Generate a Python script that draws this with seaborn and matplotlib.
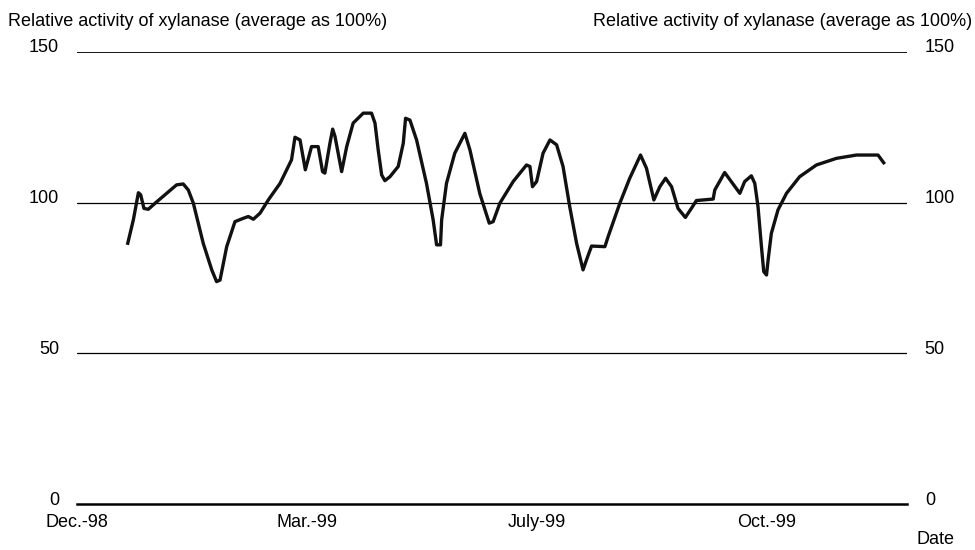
import numpy as np
import pandas as pd
import matplotlib
matplotlib.use("Agg")
import matplotlib.pyplot as plt
import matplotlib.transforms as mtransforms
import seaborn as sns

# position along the date axis (0 = Dec.-98, 1 = Mar.-99, 2 = July-99, 3 = Oct.-99)
date_pos = [0.219, 0.245, 0.267, 0.277, 0.291, 0.310, 0.347, 0.433, 0.462, 0.484,
            0.506, 0.549, 0.586, 0.607, 0.622, 0.651, 0.687, 0.723, 0.745, 0.767,
            0.796, 0.832, 0.883, 0.933, 0.948, 0.970, 0.993, 1.020, 1.049, 1.068,
            1.078, 1.100, 1.112, 1.122, 1.151, 1.173, 1.201, 1.245, 1.281, 1.296,
            1.310, 1.325, 1.339, 1.361, 1.397, 1.419, 1.429, 1.448, 1.477, 1.520,
            1.549, 1.564, 1.581, 1.586, 1.607, 1.643, 1.687, 1.709, 1.752, 1.793,
            1.810, 1.839, 1.897, 1.955, 1.970, 1.981, 1.999, 2.027, 2.057, 2.086,
            2.114, 2.143, 2.173, 2.201, 2.216, 2.238, 2.296, 2.310, 2.361, 2.404,
            2.451, 2.477, 2.509, 2.535, 2.560, 2.586, 2.614, 2.646, 2.674, 2.694,
            2.767, 2.774, 2.817, 2.883, 2.904, 2.933, 2.948, 2.962, 2.977, 2.987,
            2.999, 3.006, 3.020, 3.049, 3.086, 3.143, 3.216, 3.303, 3.390, 3.484,
            3.513]
activity = [86.0, 94.3, 103.3, 102.6, 98.1, 97.8, 100.3, 105.9, 106.2, 104.2,
            99.8, 86.5, 77.7, 73.8, 74.3, 85.4, 93.7, 94.8, 95.4, 94.5,
            96.5, 100.9, 106.4, 114.2, 121.7, 120.8, 110.9, 118.6, 118.6, 110.3,
            109.8, 119.7, 124.4, 122.0, 110.3, 118.6, 126.4, 129.7, 129.7, 126.4,
            117.5, 109.2, 107.3, 108.6, 112.0, 119.7, 128.0, 127.4, 120.8, 106.4,
            94.3, 86.0, 86.0, 94.3, 106.4, 116.4, 123.0, 117.5, 103.0, 93.2,
            93.7, 99.8, 107.0, 112.5, 112.0, 105.3, 107.0, 116.4, 120.8, 119.2,
            112.0, 98.7, 86.5, 77.7, 81.0, 85.6, 85.4, 88.7, 99.8, 108.1,
            115.8, 111.4, 100.9, 105.3, 108.1, 105.3, 98.1, 95.1, 98.3, 100.7,
            101.2, 104.2, 110.0, 103.1, 107.0, 108.9, 106.4, 98.7, 85.4, 77.1,
            76.0, 81.0, 89.8, 97.6, 103.1, 108.6, 112.5, 114.7, 115.8, 115.8,
            112.8]

tick_pos = [0, 1, 2, 3]
tick_labels = ["Dec.-98", "Mar.-99", "July-99", "Oct.-99"]
y_ticks = [0, 50, 100, 150]
y_title = "Relative activity of xylanase (average as 100%)"

df = pd.DataFrame({"pos": date_pos, "activity": activity})

sns.set_style("white")
plt.rcParams["font.family"] = ["Liberation Sans", "DejaVu Sans"]
plt.rcParams["font.size"] = 13
plt.rcParams["text.color"] = "black"
plt.rcParams["xtick.color"] = "black"
plt.rcParams["ytick.color"] = "black"

fig = plt.figure(figsize=(9.75, 5.5), dpi=100)
ax = fig.add_axes([0.079, 0.0836, 0.851, 0.8219])

for yv in [50, 100]:
    ax.axhline(yv, color="black", lw=0.9, zorder=1)
ax.axhline(150, color="black", lw=1.3, zorder=1)

sns.lineplot(data=df, x="pos", y="activity", sort=False, estimator=None,
             color="#111111", lw=2.4, ax=ax, zorder=3)
ax.lines[-1].set_solid_joinstyle("round")
ax.lines[-1].set_solid_capstyle("butt")

ax.set_xlim(0, 3.609)
ax.set_ylim(0, 150)
for s in ["top", "left", "right"]:
    ax.spines[s].set_visible(False)
ax.spines["bottom"].set_linewidth(1.8)
ax.spines["bottom"].set_color("black")

ax.set_xticks(tick_pos)
ax.set_xticklabels(tick_labels)
ax.tick_params(axis="x", direction="in", length=9, width=0.8, color="black",
               pad=7, labelsize=13)
ax.xaxis.get_major_ticks()[0].tick1line.set_visible(False)

ax.set_yticks(y_ticks)
ax.set_yticklabels([str(v) for v in y_ticks])
ax.tick_params(axis="y", length=0, pad=13, labelsize=13,
               left=True, right=False, labelleft=True, labelright=True)
shift = mtransforms.ScaledTranslation(0, 6 / 100, fig.dpi_scale_trans)
for lab in ax.get_yticklabels():
    lab.set_transform(lab.get_transform() + shift)

ax.set_xlabel("")
ax.set_ylabel("")

fig.text(8 / 975, 1 - 22 / 550, y_title, ha="left", va="center", fontsize=13)
fig.text(972 / 975, 1 - 22 / 550, y_title, ha="right", va="center", fontsize=13)
fig.text(935 / 975, 1 - 540 / 550, "Date", ha="center", va="center", fontsize=13)

fig.savefig("out.png", dpi=100, facecolor="white")
